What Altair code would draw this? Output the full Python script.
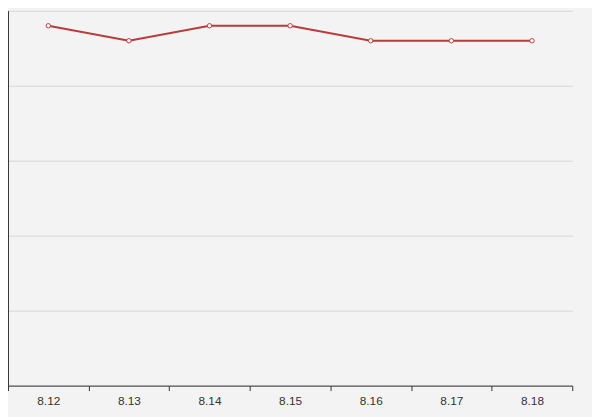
import altair as alt
import pandas as pd

dates = ["8.12", "8.13", "8.14", "8.15", "8.16", "8.17", "8.18"]
values = [4.8, 4.6, 4.8, 4.8, 4.6, 4.6, 4.6]

df = pd.DataFrame({"date": dates, "value": values})

x = alt.X("date:O", sort=dates, title=None,
          scale=alt.Scale(paddingInner=0, paddingOuter=0),
          axis=alt.Axis(labelAngle=0, tickBand="extent", ticks=True, tickSize=5,
                        tickColor="#333", domainColor="#333", labelColor="#333",
                        labelFontSize=12, labelFont="Liberation Sans", labelPadding=5,
                        grid=False))
y = alt.Y("value:Q", title=None,
          scale=alt.Scale(domain=[0, 5], nice=False, zero=True),
          axis=alt.Axis(values=[0, 1, 2, 3, 4, 5], labels=False, tickSize=5,
                        tickColor="#333", domainColor="#333",
                        grid=True, gridColor="#d6d6d6"))

base = alt.Chart(df).encode(x=x, y=y)
line = base.mark_line(color="#b63d3b", strokeWidth=2)
pts = base.mark_point(filled=True, fill="white", stroke="#b63d3b", strokeWidth=1,
                      size=20, opacity=1)

chart = (line + pts).properties(
    width=572, height=380,
    background="#f3f3f3",
    padding={"left": 0, "top": 0, "right": 20, "bottom": 29},
    autosize=alt.AutoSizeParams(type="none"),
).configure_view(stroke=None)

chart.save("out.html", embed_options={"renderer": "svg", "actions": False})
